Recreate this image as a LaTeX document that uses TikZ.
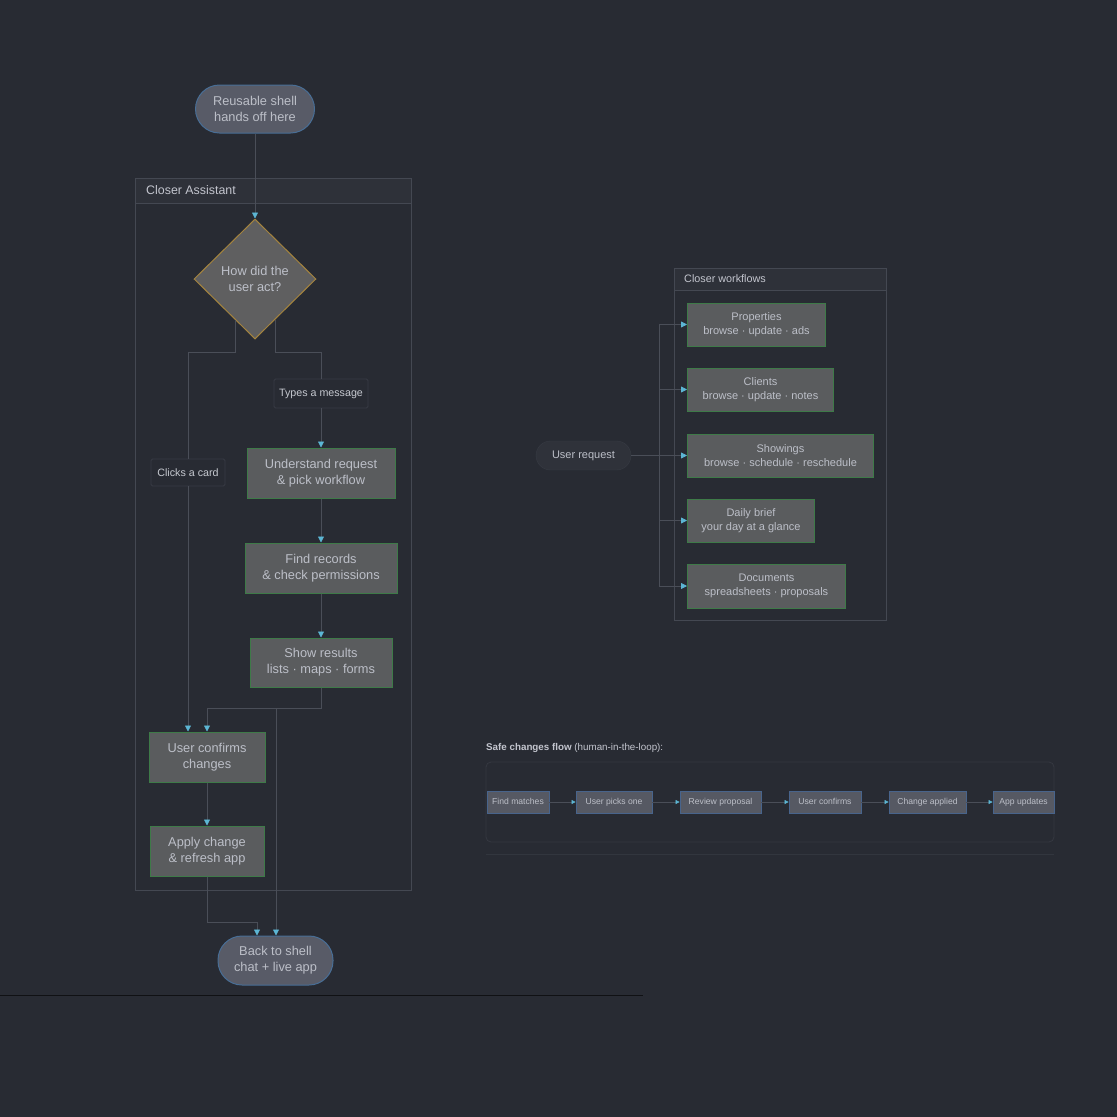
\documentclass[tikz,border=0pt]{standalone}
\usepackage{fontspec}
\setmainfont{Liberation Sans}
\usetikzlibrary{shapes.geometric,arrows.meta}
\definecolor{bgc}{RGB}{40,43,51}
\definecolor{procfill}{RGB}{90,92,94}
\definecolor{greenb}{RGB}{62,122,72}
\definecolor{txt}{RGB}{188,191,200}
\definecolor{termfill}{RGB}{88,91,103}
\definecolor{termb}{RGB}{72,110,150}
\definecolor{diafill}{RGB}{95,95,96}
\definecolor{diab}{RGB}{165,132,62}
\definecolor{clb}{RGB}{68,72,82}
\definecolor{clhead}{RGB}{46,49,57}
\definecolor{linec}{RGB}{74,78,88}
\definecolor{arrc}{RGB}{92,182,212}
\definecolor{lblb}{RGB}{55,59,68}
\definecolor{flowfill}{RGB}{86,89,99}
\definecolor{flowb}{RGB}{72,100,140}
\definecolor{pillfill}{RGB}{47,50,58}
\tikzset{
  x=1pt,y=-1pt,
  proc/.style={draw=greenb,fill=procfill,text=txt,align=center,inner sep=0,font=\fontsize{12.8}{16}\selectfont,line width=1pt},
  wf/.style={draw=greenb,fill=procfill,text=txt,align=center,inner sep=0,font=\fontsize{11}{13.5}\selectfont,line width=1pt,anchor=west},
  term/.style={draw=termb,fill=termfill,text=txt,align=center,inner sep=0,rounded corners=24,font=\fontsize{12.8}{16}\selectfont,line width=1pt},
  dia/.style={diamond,draw=diab,fill=diafill,text=txt,align=center,inner sep=0,minimum width=122,minimum height=120,font=\fontsize{12.8}{16}\selectfont,line width=1pt},
  lbl/.style={draw=lblb,fill=bgc,text=txt!85,rounded corners=1.5,inner sep=0,font=\fontsize{10.7}{12}\selectfont,line width=0.8pt},
  flow/.style={draw=flowb,fill=flowfill,text=txt,inner sep=0,minimum height=22,text height=6.3,text depth=1.8,font=\fontsize{8.6}{10}\selectfont,line width=0.8pt},
  conn/.style={draw=linec,line width=0.8pt,-{Triangle[width=6,length=6,color=arrc]}},
  connp/.style={draw=linec,line width=0.8pt},
  cltitle/.style={text=txt!90,anchor=west,inner sep=0,font=\fontsize{12.4}{14}\selectfont},
}
\begin{document}
\begin{tikzpicture}
\fill[bgc] (0,0) rectangle (1117,1117);
\useasboundingbox (0,0) rectangle (1117,1117);

% ---------- left cluster ----------
\fill[clhead] (135,178) rectangle (411,203);
\draw[clb,line width=0.8pt] (135,178) rectangle (411,890);
\draw[clb,line width=0.8pt] (135,203) -- (411,203);
\node[cltitle] (t1) at (146,190) {Closer Assistant};

\node[term,minimum width=119,minimum height=48] (shell) at (255,109) {Reusable shell\\hands off here};
\node[dia] (dec) at (255,279) {How did the\\user act?};
\node[lbl,minimum width=94,minimum height=29] (types) at (321,393.5) {Types a message};
\node[lbl,minimum width=74,minimum height=27] (clicks) at (188,472.5) {Clicks a card};
\node[proc,minimum width=148,minimum height=50] (und) at (321,473) {Understand request\\\& pick workflow};
\node[proc,minimum width=152,minimum height=50] (find) at (321,568) {Find records\\\& check permissions};
\node[proc,minimum width=142,minimum height=49] (show) at (321,662.5) {Show results\\lists · maps · forms};
\node[proc,minimum width=116,minimum height=50] (conf) at (207,757) {User confirms\\changes};
\node[proc,minimum width=114,minimum height=50] (apply) at (207,851) {Apply change\\\& refresh app};
\node[term,minimum width=115,minimum height=49] (back) at (275.5,960.5) {Back to shell\\chat + live app};

\draw[conn] (shell.south) -- (dec.north);
\coordinate (dl) at (235,320);
\coordinate (dr) at (275,320);
\draw[connp] (dl) -- (235,352) -| (clicks.north);
\draw[conn] (clicks.south) -- (clicks.south |- conf.north);
\draw[connp] (dr) -- (275,352) -| (types.north);
\draw[conn] (types.south) -- (und.north);
\draw[conn] (und.south) -- (find.north);
\draw[conn] (find.south) -- (show.north);
\draw[conn] (show.south) -- (321,708) -| (conf.north);
\draw[conn] (321,708) -| (back.north -| 276,0);
\draw[conn] (conf.south) -- (apply.north);
\draw[conn] (apply.south) -- (207,922) -| (back.north -| 257,0);

\draw[black!60!bgc,line width=1pt] (0,995) -- (643,995);

% ---------- right cluster ----------
\fill[clhead] (674,268) rectangle (886,290);
\draw[clb,line width=0.8pt] (674,268) rectangle (886,620);
\draw[clb,line width=0.8pt] (674,290) -- (886,290);
\node[cltitle,font=\fontsize{10.8}{12}\selectfont] (t2) at (684,279) {Closer workflows};

\node[draw=lblb,fill=pillfill,text=txt,rounded corners=14.5,minimum width=95,minimum height=29,inner sep=0,font=\fontsize{11}{12}\selectfont] (req) at (583.5,455.5) {User request};

\node[wf,minimum width=138,minimum height=43] (p1) at (687,324.5) {Properties\\browse · update · ads};
\node[wf,minimum width=146,minimum height=43] (p2) at (687,389.5) {Clients\\browse · update · notes};
\node[wf,minimum width=186,minimum height=43] (p3) at (687,455.5) {Showings\\browse · schedule · reschedule};
\node[wf,minimum width=127,minimum height=43] (p4) at (687,520.5) {Daily brief\\your day at a glance};
\node[wf,minimum width=158,minimum height=44] (p5) at (687,586) {Documents\\spreadsheets · proposals};

\coordinate (trunk) at (659,455.5);
\draw[connp] (req.east) -- (trunk);
\foreach \n in {p1,p2,p3,p4,p5}{
  \draw[conn] (trunk) |- (\n.west);
}

% ---------- safe changes flow ----------
\node[anchor=west,inner sep=0,text=txt!90,font=\fontsize{9.8}{11}\selectfont] (st) at (486,748) {\textbf{Safe changes flow} (human-in-the-loop):};
\draw[clhead!70!clb,line width=0.8pt,rounded corners=5] (486,762) rectangle (1054,842);
\draw[clhead!80!clb,line width=0.8pt] (486,854) -- (1054,854);

\node[flow,minimum width=62] (f1) at (518,802) {Find matches};
\node[flow,minimum width=76] (f2) at (614,802) {User picks one};
\node[flow,minimum width=81] (f3) at (720.5,802) {Review proposal};
\node[flow,minimum width=72] (f4) at (825,802) {User confirms};
\node[flow,minimum width=77] (f5) at (927.5,802) {Change applied};
\node[flow,minimum width=61] (f6) at (1023.5,802) {App updates};
\foreach \a/\b in {f1/f2,f2/f3,f3/f4,f4/f5,f5/f6}{
  \draw[draw=linec,line width=0.6pt,-{Triangle[width=4,length=4,color=arrc]}] (\a.east) -- (\b.west);
}
\end{tikzpicture}
\end{document}
